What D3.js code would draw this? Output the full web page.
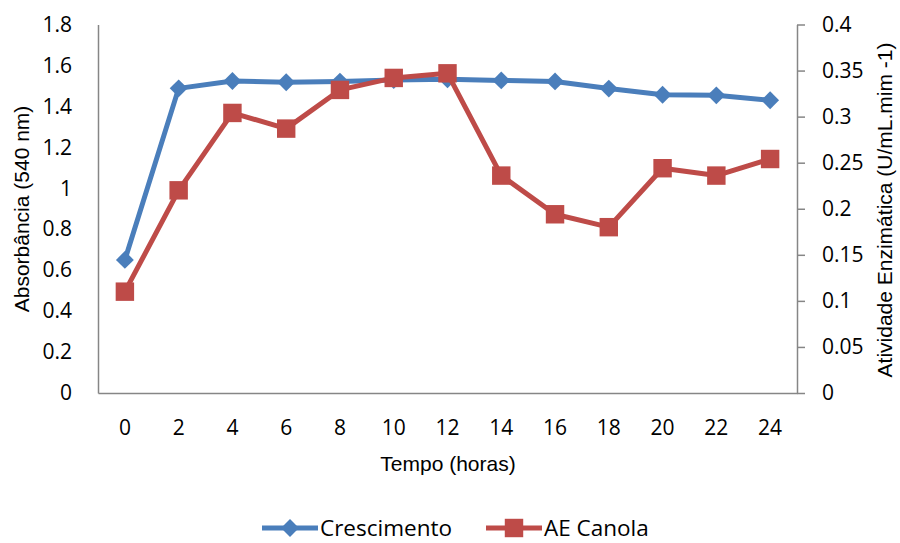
<!DOCTYPE html>
<html>
<head>
<meta charset="utf-8">
<script src="https://cdn.jsdelivr.net/npm/d3@7"></script>
<style>
  html, body { margin: 0; padding: 0; background: #fff; }
  svg { display: block; }
</style>
</head>
<body>
<svg id="chart" width="900" height="543"></svg>
<script>
// Sampling times (hours)
const hours = [0, 2, 4, 6, 8, 10, 12, 14, 16, 18, 20, 22, 24];
// Growth measured as absorbance at 540 nm (left axis)
const crescimento = [0.65, 1.488, 1.524, 1.518, 1.521, 1.529, 1.532, 1.527, 1.522, 1.487, 1.457, 1.454, 1.43];
// Enzymatic activity, canola substrate (right axis)
const aeCanola = [0.110, 0.220, 0.304, 0.287, 0.329, 0.342, 0.347, 0.236, 0.194, 0.180, 0.244, 0.236, 0.254];
// Axis tick labels
const leftTicks = [0, 0.2, 0.4, 0.6, 0.8, 1, 1.2, 1.4, 1.6, 1.8];
const rightTicks = [0, 0.05, 0.1, 0.15, 0.2, 0.25, 0.3, 0.35, 0.4];

const BLUE = "#4a7ebb";
const RED = "#be4b48";
const AXIS = "#868686";
const TICKFONT = "'Open Sans', 'Noto Sans', sans-serif";
const TITLEFONT = "'Liberation Sans', Arial, sans-serif";

const svg = d3.select("#chart");
const m = { left: 98, right: 797, top: 24.5, bottom: 393 };

const x = d3.scaleBand().domain(hours).range([m.left, m.right]);
const yL = d3.scaleLinear().domain([0, 1.8]).range([m.bottom, m.top]);
const yR = d3.scaleLinear().domain([0, 0.4]).range([m.bottom, m.top]);
const cx = h => x(h) + x.bandwidth() / 2;

// Left axis (labels only, plain line)
const gL = svg.append("g").attr("transform", `translate(${m.left},0)`)
  .call(d3.axisLeft(yL).tickValues(leftTicks).tickFormat(d3.format("")).tickSize(0).tickPadding(26));
gL.select(".domain").attr("stroke", AXIS).attr("stroke-width", 1.5);
gL.selectAll("text").attr("font-family", TICKFONT).attr("font-size", 21).attr("fill", "#000");

// Right axis with outward ticks
const gR = svg.append("g").attr("transform", `translate(${m.right},0)`)
  .call(d3.axisRight(yR).tickValues(rightTicks).tickFormat(d3.format("")).tickSizeInner(8).tickSizeOuter(0).tickPadding(17));
gR.select(".domain").attr("stroke", AXIS).attr("stroke-width", 1.5);
gR.selectAll(".tick line").attr("stroke", AXIS).attr("stroke-width", 1.5);
gR.selectAll("text").attr("font-family", TICKFONT).attr("font-size", 21).attr("fill", "#000");

// Bottom axis
const gB = svg.append("g").attr("transform", `translate(0,${m.bottom})`)
  .call(d3.axisBottom(x).tickSize(0).tickPadding(27));
gB.select(".domain").attr("stroke", AXIS).attr("stroke-width", 1.5);
gB.selectAll("text").attr("font-family", TICKFONT).attr("font-size", 21).attr("fill", "#000");

// Axis titles
svg.append("text").attr("transform", "translate(29,209) rotate(-90)")
  .attr("text-anchor", "middle").attr("font-family", TITLEFONT)
  .attr("font-size", 21).text("Absorbância (540 nm)");
svg.append("text").attr("transform", "translate(892,210) rotate(-90)")
  .attr("text-anchor", "middle").attr("font-family", TITLEFONT)
  .attr("font-size", 21).text("Atividade Enzimática (U/mL.mim -1)");
svg.append("text").attr("x", 448).attr("y", 471)
  .attr("text-anchor", "middle").attr("font-family", TITLEFONT)
  .attr("font-size", 21).text("Tempo (horas)");

const diamond = d3.symbol().type(d3.symbolSquare).size(160);
const square = d3.symbol().type(d3.symbolSquare).size(340);

// Crescimento series
svg.append("path").datum(crescimento)
  .attr("fill", "none").attr("stroke", BLUE).attr("stroke-width", 5).attr("stroke-linejoin", "round")
  .attr("d", d3.line().x((d, i) => cx(hours[i])).y(d => yL(d)));
svg.append("g").selectAll("path").data(crescimento).join("path")
  .attr("d", diamond).attr("fill", BLUE)
  .attr("transform", (d, i) => `translate(${cx(hours[i])},${yL(d)}) rotate(45)`);

// AE Canola series
svg.append("path").datum(aeCanola)
  .attr("fill", "none").attr("stroke", RED).attr("stroke-width", 5).attr("stroke-linejoin", "round")
  .attr("d", d3.line().x((d, i) => cx(hours[i])).y(d => yR(d)));
svg.append("g").selectAll("path").data(aeCanola).join("path")
  .attr("d", square).attr("fill", RED)
  .attr("transform", (d, i) => `translate(${cx(hours[i])},${yR(d)})`);

// Legend
const legend = [
  { name: "Crescimento", color: BLUE, sym: diamond, rot: 45, x0: 262 },
  { name: "AE Canola", color: RED, sym: square, rot: 0, x0: 486 }
];
const lg = svg.append("g").selectAll("g").data(legend).join("g")
  .attr("transform", d => `translate(${d.x0},528)`);
lg.append("line").attr("x1", 0).attr("x2", 56).attr("stroke", d => d.color).attr("stroke-width", 5);
lg.append("path").attr("d", d => d.sym()).attr("fill", d => d.color)
  .attr("transform", d => `translate(28,0) rotate(${d.rot})`);
lg.append("text").attr("x", 58).attr("y", 8).attr("font-family", TICKFONT)
  .attr("font-size", 22.5).text(d => d.name);
</script>
</body>
</html>
